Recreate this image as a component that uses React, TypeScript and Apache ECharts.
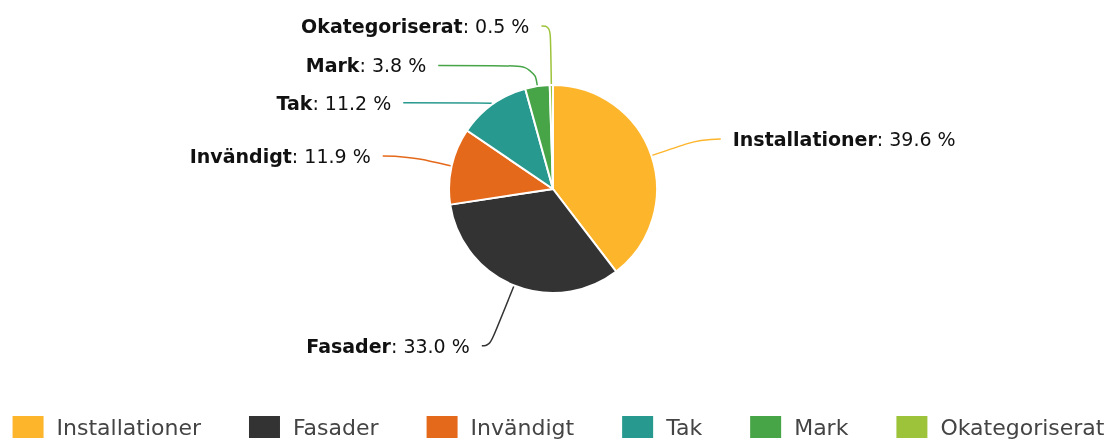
import React, { useEffect, useRef } from "react";
import * as echarts from "echarts";

const categories = ["Installationer", "Fasader", "Invändigt", "Tak", "Mark", "Okategoriserat"];
const values = [39.6, 33.0, 11.9, 11.2, 3.8, 0.5];
const colors = ["#FDB62C", "#333333", "#E5691B", "#27998E", "#47A447", "#9DC33B"];

// label line geometry per slice [length, length2]
const lineLens: [number, number][] = [
  [52, 20],
  [65, 8],
  [45, 25],
  [2, 88],
  [21, 96],
  [59, 9],
];

const FONT = "DejaVu Sans";

export default function App() {
  const ref = useRef<HTMLDivElement>(null);
  useEffect(() => {
    const chart = echarts.init(ref.current!, null, { renderer: "svg" });
    chart.setOption({
      animation: false,
      color: colors,
      textStyle: { fontFamily: FONT },
      legend: {
        top: 414,
        left: "center",
        padding: 0,
        itemWidth: 33,
        itemHeight: 24,
        itemGap: 46,
        icon: "rect",
        textStyle: { fontSize: 22, lineHeight: 24, color: "#444", fontFamily: FONT, padding: [0, 0, 0, 7] },
        data: categories,
      },
      series: [
        {
          type: "pie",
          center: [553, 189],
          radius: [0, 104],
          startAngle: 90,
          clockwise: true,
          avoidLabelOverlap: true,
          itemStyle: { borderColor: "#fff", borderWidth: 2 },
          label: {
            show: true,
            position: "outside",
            distanceToLabelLine: 12,
            formatter: (p: any) => `{b|${p.name}}: ${p.value.toFixed(1)} %`,
            fontSize: 19,
            color: "#111",
            fontFamily: FONT,
            rich: { b: { fontWeight: "bold", fontSize: 19, color: "#111", fontFamily: FONT } },
          },
          labelLine: { show: true, smooth: 0.5, lineStyle: { width: 1.5 } },
          data: categories.map((c, i) => ({
            name: c,
            value: values[i],
            labelLine: { length: lineLens[i][0], length2: lineLens[i][1] },
          })),
        },
      ],
    });
    return () => chart.dispose();
  }, []);
  return <div ref={ref} style={{ position: "fixed", left: 0, top: 0, width: 1115, height: 440 }} />;
}
